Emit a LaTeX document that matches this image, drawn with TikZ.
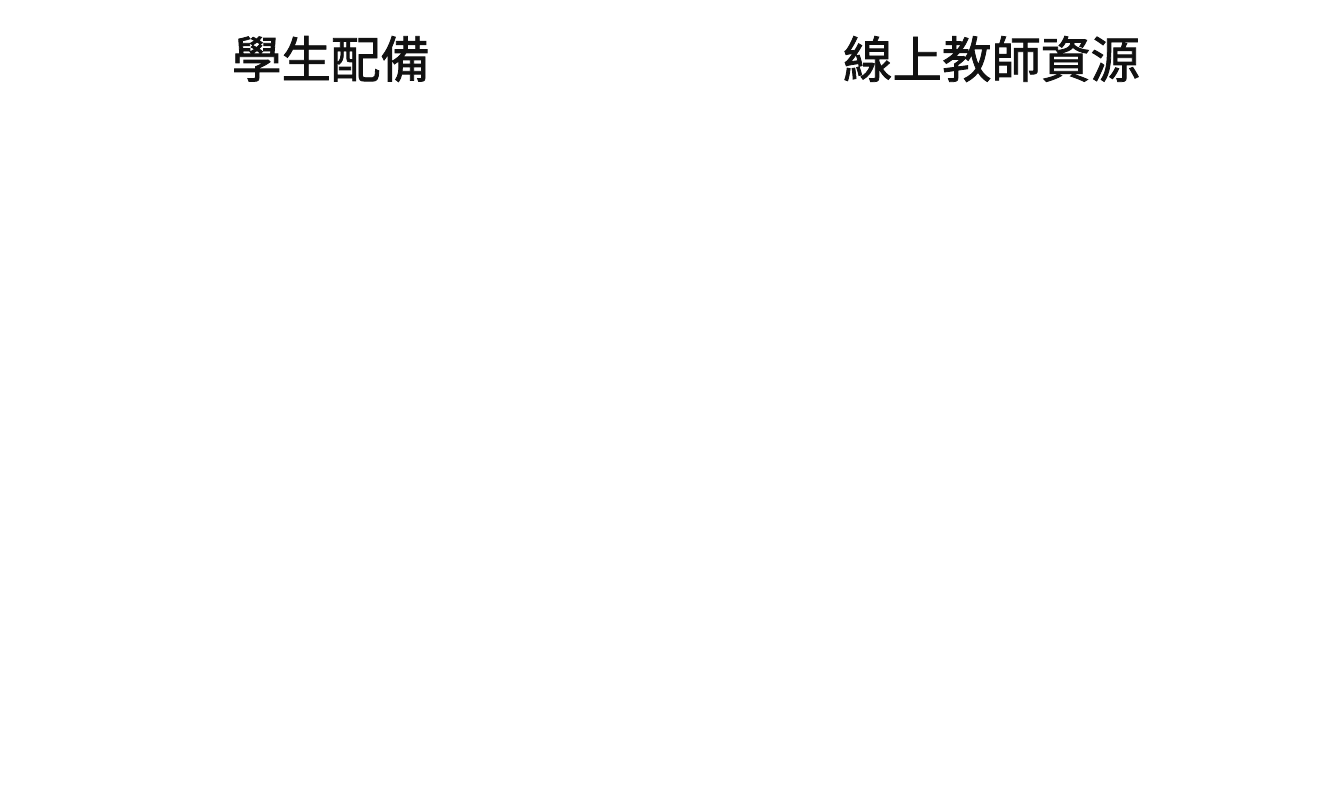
\documentclass[tikz,border=0pt]{standalone}
\usepackage{fontspec}
\newfontfamily\cjk{Noto Sans CJK TC}[FakeBold=1.6]
\definecolor{titlecol}{HTML}{111111}
\begin{document}
\begin{tikzpicture}[x=1bp,y=-1bp,
  title/.style={font=\cjk\fontsize{49.5bp}{55bp}\selectfont, text=titlecol, inner sep=0pt, anchor=center}]
\useasboundingbox[fill=white] (0,0) rectangle (1327,795);
\node[title] (left) at (331,59) {學生配備};
\node[title] (right) at (991.5,59) {線上教師資源};
\end{tikzpicture}
\end{document}
